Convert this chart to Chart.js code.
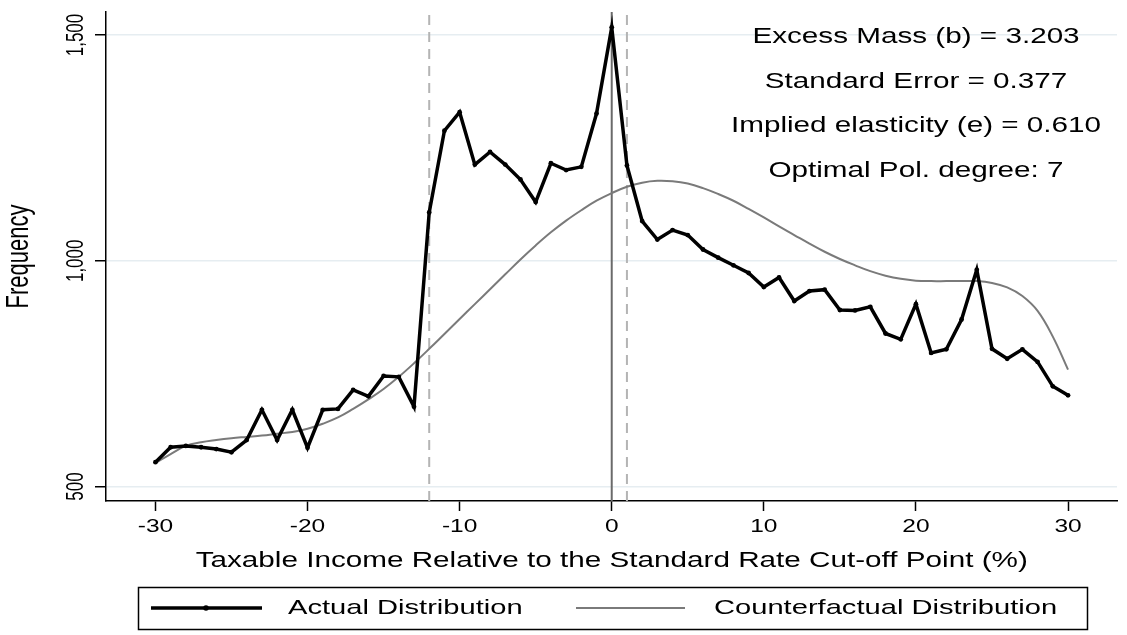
<!DOCTYPE html>
<html>
<head>
<meta charset="utf-8">
<script src="https://cdn.jsdelivr.net/npm/chart.js@4.4.1/dist/chart.umd.min.js"></script>
<style>
  body { margin: 0; background: #fff; }
  #wrap { position: relative; width: 1127px; height: 635px; }
</style>
</head>
<body>
<div id="wrap"><canvas id="bunching"></canvas></div>
<script>
// distance from cut-off point (%)
const xs = [-30, -29, -28, -27, -26, -25, -24, -23, -22, -21, -20, -19, -18, -17, -16, -15, -14, -13,
            -12, -11, -10, -9, -8, -7, -6, -5, -4, -3, -2, -1, 0,
            1, 2, 3, 4, 5, 6, 7, 8, 9, 10, 11, 12, 13, 14, 15, 16, 17, 18, 19, 20,
            21, 22, 23, 24, 25, 26, 27, 28, 29, 30];

const actual = [554, 587, 590, 587, 583, 576, 603, 670, 603, 670, 586, 670, 672, 714, 700, 745, 743, 677,
                1107, 1288, 1329, 1213, 1241, 1213, 1180, 1130, 1216, 1201, 1208, 1326, 1517,
                1211, 1088, 1047, 1068, 1057, 1025, 1007, 990, 973, 942, 963, 911, 933, 936, 891, 890, 898, 839, 826, 904,
                796, 804, 870, 980, 805, 783, 804, 776, 722, 702];

const counterfactual = [552, 572, 590, 598, 603, 607, 610, 613, 617, 621, 628, 639, 653, 672, 693, 716, 743, 773,
                        805, 838, 871, 904, 937, 970, 1003, 1034, 1063, 1089, 1112, 1133, 1150,
                        1164, 1173, 1177, 1176, 1171, 1161, 1148, 1133, 1115, 1096, 1076, 1057, 1038, 1020, 1004, 990, 977, 967, 960, 956,
                        955, 955, 955, 955, 951, 941, 922, 889, 832, 759];

const xTicks = [-30, -20, -10, 0, 10, 20, 30];
const yTicks = [500, 1000, 1500];
const cutoff = 0;
const windowLines = [-12, 1];

const stats = [
  'Excess Mass (b) = 3.203',
  'Standard Error = 0.377',
  'Implied elasticity (e) = 0.610',
  'Optimal Pol. degree: 7'
];
const xTitle = 'Taxable Income Relative to the Standard Rate Cut-off Point (%)';
const yTitle = 'Frequency';
const legendLabels = ['Actual Distribution', 'Counterfactual Distribution'];

const X_MIN = -33.25, X_MAX = 33.22;
const Y_MIN = 468, Y_MAX = 1551;

const FONT = '"Liberation Sans", Arial, sans-serif';
const STRETCH = 1.4; // original export is stretched sideways

function fmt(v) {
  return v.toLocaleString('en-US');
}

// text helper, stretched horizontally like the original
function txt(ctx, s, x, y, size, align, rot) {
  ctx.save();
  ctx.translate(x, y);
  ctx.scale(STRETCH, 1);
  if (rot) ctx.rotate(rot);
  ctx.font = size + 'px ' + FONT;
  ctx.fillStyle = '#000';
  ctx.textAlign = align || 'center';
  ctx.textBaseline = 'middle';
  ctx.fillText(s, 0, 0);
  ctx.restore();
}

const decorations = {
  id: 'decorations',
  afterDraw(chart) {
    const ctx = chart.ctx;
    const sx = chart.scales.x, sy = chart.scales.y;

    // tick labels
    xTicks.forEach(v => txt(ctx, String(v), sx.getPixelForValue(v), 527, 17.5));
    yTicks.forEach(v => txt(ctx, fmt(v), 76, sy.getPixelForValue(v), 17, 'center', -Math.PI / 2));

    // axis titles
    txt(ctx, xTitle, sx.getPixelForValue(0), 561, 21.2);
    txt(ctx, yTitle, 20, (chart.chartArea.top + chart.chartArea.bottom) / 2, 22, 'center', -Math.PI / 2);

    // stats box
    stats.forEach((s, i) => txt(ctx, s, 916, 37 + i * 44.8, 21.2));

    // legend
    ctx.save();
    ctx.strokeStyle = '#000';
    ctx.lineWidth = 1.5;
    ctx.strokeRect(138.5, 587.5, 949, 42);
    ctx.lineWidth = 3.5;
    ctx.beginPath(); ctx.moveTo(151, 608); ctx.lineTo(262, 608); ctx.stroke();
    ctx.fillStyle = '#000';
    ctx.beginPath(); ctx.arc(206, 608, 2.8, 0, Math.PI * 2); ctx.fill();
    ctx.strokeStyle = '#7a7a7a';
    ctx.lineWidth = 2;
    ctx.beginPath(); ctx.moveTo(576, 608); ctx.lineTo(685, 608); ctx.stroke();
    ctx.restore();
    txt(ctx, legendLabels[0], 288, 608, 20.8, 'left');
    txt(ctx, legendLabels[1], 714, 608, 20.8, 'left');
  }
};

const vline = (x, color, dash, width) => ({
  data: [{ x: x, y: Y_MIN }, { x: x, y: Y_MAX }],
  borderColor: color,
  borderWidth: width,
  borderDash: dash,
  pointRadius: 0,
  fill: false
});

const ctx = document.getElementById('bunching').getContext('2d');
new Chart(ctx, {
  type: 'line',
  data: {
    datasets: [
      {
        label: legendLabels[0],
        data: xs.map((x, i) => ({ x: x, y: actual[i] })),
        borderColor: '#000',
        backgroundColor: '#000',
        borderWidth: 3.5,
        pointRadius: 2.4,
        pointBorderWidth: 0,
        tension: 0,
        fill: false
      },
      {
        label: legendLabels[1],
        data: xs.map((x, i) => ({ x: x, y: counterfactual[i] })),
        borderColor: '#7a7a7a',
        borderWidth: 2,
        pointRadius: 0,
        tension: 0.4,
        fill: false
      },
      vline(cutoff, '#6a6a6a', [], 2),
      vline(windowLines[0], '#b4b4b4', [10, 7], 2),
      vline(windowLines[1], '#b4b4b4', [10, 7], 2)
    ]
  },
  options: {
    responsive: true,
    maintainAspectRatio: false,
    animation: false,
    layout: { padding: { top: 12, right: 10, left: 0, bottom: 0 } },
    plugins: {
      legend: { display: false },
      tooltip: { enabled: false }
    },
    scales: {
      x: {
        type: 'linear',
        min: X_MIN,
        max: X_MAX,
        afterBuildTicks: s => { s.ticks = xTicks.map(v => ({ value: v })); },
        afterFit: s => { s.height = 134; },
        ticks: { display: false },
        grid: { drawOnChartArea: false, drawTicks: true, tickLength: 10, tickColor: '#000', tickWidth: 1.5 },
        border: { color: '#000', width: 1.5 }
      },
      y: {
        type: 'linear',
        min: Y_MIN,
        max: Y_MAX,
        afterBuildTicks: s => { s.ticks = yTicks.map(v => ({ value: v })); },
        afterFit: s => { s.width = 106; },
        ticks: { display: false },
        grid: { color: '#e6edf1', lineWidth: 1.5, drawTicks: true, tickLength: 11, tickColor: '#000', tickWidth: 1.5 },
        border: { color: '#000', width: 1.5 }
      }
    }
  },
  plugins: [decorations]
});
</script>
</body>
</html>
